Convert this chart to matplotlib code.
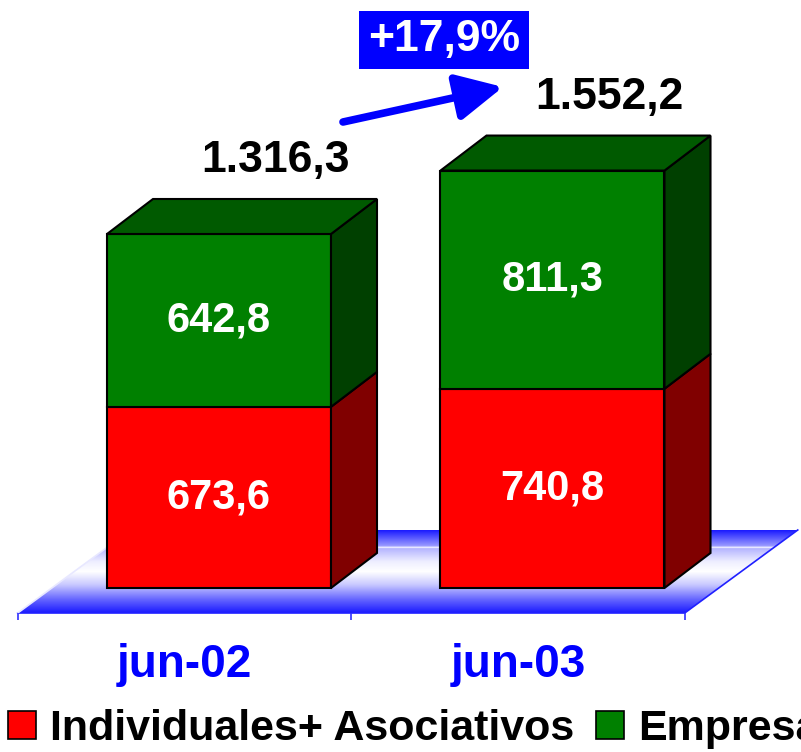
import numpy as np
import matplotlib.pyplot as plt
from matplotlib.patches import Polygon, Patch, FancyArrowPatch
from matplotlib.colors import LinearSegmentedColormap

plt.rcParams['font.family'] = ['Liberation Sans', 'DejaVu Sans']

# data
categories = ['jun-02', 'jun-03']
individuales = [673.6, 740.8]
empresas = [642.8, 811.3]
totals = [1316.3, 1552.2]
growth_label = '+17,9%'
series_names = ['Individuales+ Asociativos', 'Empresas']

# layout (pixel geometry of the 801x752 picture mapped to data units)
W, H = 801, 752
x0_px, x_step = 184.5, 333.5      # category centre, spacing
y0_px, y_scale = 588, 0.26894     # value 0 row, px per unit

fig = plt.figure(figsize=(W / 100, H / 100), dpi=100)
ax = fig.add_axes([0, 0, 1, 1])
ax.set_xlim((0 - x0_px) / x_step, (W - x0_px) / x_step)
ax.set_ylim((y0_px - H) / y_scale, y0_px / y_scale)
ax.axis('off')

def dx(px):
    return px / x_step

def dy(px):
    return px / y_scale

bar_off = dx(34.5)
bar_w = dx(224)
depth_x, depth_y = dx(46), dy(35)

# floor
fl_y = dy(-25)
fl_dx, fl_dy = dx(113), dy(83)
floor = [(-0.5, fl_y), (1.5, fl_y), (1.5 + fl_dx, fl_y + fl_dy), (-0.5 + fl_dx, fl_y + fl_dy)]
stops = [(0.0, '#1a1aff'), (0.16, '#6464ff'), (0.34, '#c8c8ff'), (0.5, '#ffffff'),
         (0.62, '#eeeeff'), (0.78, '#b4b4ff'), (0.79, '#ffffff'), (0.81, '#9a9aff'),
         (1.0, '#1a1aff')]
cmap = LinearSegmentedColormap.from_list('floor', stops)
grad = np.linspace(0, 1, 256).reshape(-1, 1)
img = ax.imshow(grad, cmap=cmap, aspect='auto', origin='lower',
                extent=(-0.5, 1.5 + fl_dx, fl_y, fl_y + fl_dy), zorder=1)
clip = Polygon(floor, closed=True, fc='none', ec='none', transform=ax.transData)
ax.add_patch(clip)
img.set_clip_path(clip)
ax.plot([-0.5, 1.5, 1.5 + fl_dx], [fl_y, fl_y, fl_y + fl_dy], color='#2020ff', lw=1.2, zorder=2)
ax.plot([-0.5, -0.5 + fl_dx], [fl_y, fl_y + fl_dy], color='#e8e8ff', lw=1.2, zorder=2)
ax.vlines([-0.5, 0.5, 1.5], fl_y - dy(7), fl_y, color='#3030ff', lw=1.2, zorder=2)

# bars
x = np.arange(len(categories))
xf = x + bar_off
front = {'ind': '#ff0000', 'emp': '#008000'}
side = {'ind': '#800000', 'emp': '#004000'}
top_c = '#005a00'

for i in range(len(categories)):
    for key, bottom, val in [('ind', 0, individuales[i]), ('emp', individuales[i], empresas[i])]:
        ax.bar(xf[i], val, bar_w, bottom=bottom, color=front[key], edgecolor='black',
               lw=1.5, zorder=3)
        r = xf[i] + bar_w / 2
        ax.add_patch(Polygon([(r, bottom), (r + depth_x, bottom + depth_y),
                              (r + depth_x, bottom + val + depth_y), (r, bottom + val)],
                             closed=True, fc=side[key], ec='black', lw=1.5, zorder=3))
    t = totals[i]
    l, r = xf[i] - bar_w / 2, xf[i] + bar_w / 2
    ax.add_patch(Polygon([(l, t), (l + depth_x, t + depth_y), (r + depth_x, t + depth_y), (r, t)],
                         closed=True, fc=top_c, ec='black', lw=1.5, zorder=3))

    ax.text(xf[i], individuales[i] / 2, f'{individuales[i]:.1f}'.replace('.', ','),
            color='white', fontsize=30, fontweight='bold', ha='center', va='center', zorder=4)
    ax.text(xf[i], individuales[i] + empresas[i] / 2, f'{empresas[i]:.1f}'.replace('.', ','),
            color='white', fontsize=30, fontweight='bold', ha='center', va='center', zorder=4)
    tot = f'{t:,.1f}'.replace(',', 'X').replace('.', ',').replace('X', '.')
    ax.text(x[i] + dx(91), t + dy(73), tot, color='black', fontsize=32,
            fontweight='bold', ha='center', va='center', zorder=4)
    ax.text(x[i], dy(-89), categories[i], color='#0000ff', fontsize=33, fontweight='bold',
            ha='center', va='baseline', zorder=4)

# growth arrow and box
arr = FancyArrowPatch((dx(343 - x0_px), dy(588 - 122)), (dx(503 - x0_px), dy(588 - 87)),
                      arrowstyle='-|>,head_length=28,head_width=14', mutation_scale=1,
                      color='#0000ff', lw=5.5, shrinkA=0, shrinkB=0, zorder=5)
ax.add_patch(arr)
ax.text(dx(444 - x0_px), dy(588 - 40), growth_label, color='white', fontsize=32,
        fontweight='bold', ha='center', va='center', zorder=5,
        bbox=dict(boxstyle='square,pad=0.2', fc='#0000ff', ec='none'))

# legend
handles = [Patch(fc=front['ind'], ec='black', lw=1.2), Patch(fc=front['emp'], ec='black', lw=1.2)]
fig.legend(handles, series_names, loc='lower left', bbox_to_anchor=(8 / W, 3 / H),
           ncol=2, frameon=False, borderpad=0, borderaxespad=0,
           prop={'size': 31, 'weight': 'bold'}, handlelength=0.65, handleheight=0.65,
           handletextpad=0.33, columnspacing=0.5)

fig.savefig('out.png', dpi=100)
